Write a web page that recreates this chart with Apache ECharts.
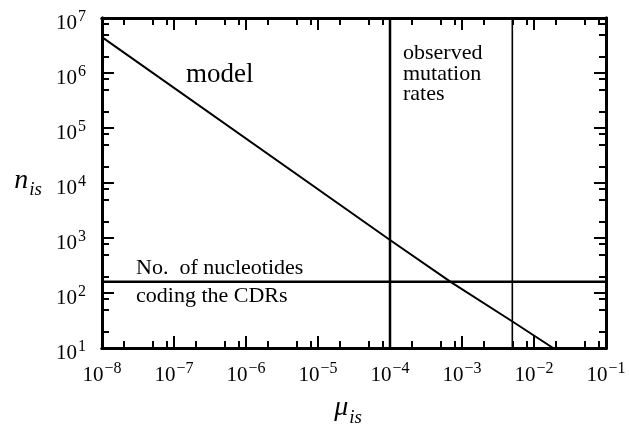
<!DOCTYPE html>
<html><head><meta charset="utf-8">
<script src="https://cdn.jsdelivr.net/npm/echarts@6/dist/echarts.min.js"></script>
<style>html,body{margin:0;padding:0;background:#fff}#c{width:629px;height:424px}</style>
</head><body><div id="c"></div>
<script>
// ---- data ----
const xExponents = [-8, -7, -6, -5, -4, -3, -2, -1];      // x tick labels 10^k
const yExponents = [1, 2, 3, 4, 5, 6, 7];                 // y tick labels 10^k
const minorMultipliers = [2, 5, 8];                        // minor tick positions within a decade
const modelMu = [1e-8, 1e-4, 7.2e-4, 4.9e-3, 1.84e-2];     // model line, x values
const modelN = [4.5e6, 920, 154, 31, 10];                  // model line, y values
const observedRates = [1e-4, 5e-3];                        // vertical lines
const observedWidths = [2.5, 1.6];
const nucleotidesCDR = 160;                                // horizontal line

const FONT = "'Liberation Serif', 'DejaVu Serif', serif";
const xMin = Math.pow(10, xExponents[0]), xMax = Math.pow(10, xExponents[xExponents.length - 1]);
const yMin = Math.pow(10, yExponents[0]), yMax = Math.pow(10, yExponents[yExponents.length - 1]);
const xMajor = xExponents.map(e => Math.pow(10, e));
const yMajor = yExponents.map(e => Math.pow(10, e));
function minors(exps) {
  const out = [];
  for (let i = 0; i < exps.length - 1; i++) minorMultipliers.forEach(m => out.push(m * Math.pow(10, exps[i])));
  return out;
}
const xMinor = minors(xExponents), yMinor = minors(yExponents);

function powLabel(v) {
  const e = Math.round(Math.log10(v));
  return '{b|10}{s|' + (e < 0 ? '\u2212' + (-e) : e) + '}';
}
const labelRich = {
  b: { fontFamily: FONT, fontSize: 21, color: '#000', verticalAlign: 'bottom', lineHeight: 22 },
  s: { fontFamily: FONT, fontSize: 16, color: '#000', verticalAlign: 'bottom', lineHeight: 16, padding: [0, 0, 9, 1] }
};
const lineStyle = { color: '#000', width: 3 };

function xAxis(pos, ticks, len, labels, extra) {
  return Object.assign({
    type: 'log', logBase: 10, min: xMin, max: xMax, position: pos,
    axisLine: { show: true, onZero: false, lineStyle: lineStyle },
    axisTick: { show: true, inside: true, length: len, lineStyle: { color: '#000', width: 2 }, customValues: ticks },
    axisLabel: labels ? { show: true, margin: 16, formatter: powLabel, rich: labelRich, customValues: xMajor } : { show: false },
    splitLine: { show: false }, minorTick: { show: false }, minorSplitLine: { show: false }
  }, extra || {});
}
function yAxis(pos, ticks, len, labels, extra) {
  return Object.assign({
    type: 'log', logBase: 10, min: yMin, max: yMax, position: pos,
    axisLine: { show: true, onZero: false, lineStyle: lineStyle },
    axisTick: { show: true, inside: true, length: len, lineStyle: { color: '#000', width: 2 }, customValues: ticks },
    axisLabel: labels ? { show: true, margin: 16, padding: [10, 0, 0, 0], formatter: powLabel, rich: labelRich, customValues: yMajor } : { show: false },
    splitLine: { show: false }, minorTick: { show: false }, minorSplitLine: { show: false }
  }, extra || {});
}
const nameRich = {
  m: { fontFamily: FONT, fontStyle: 'italic', fontSize: 28, color: '#000', verticalAlign: 'bottom', padding: [0, 1, 5, 0] },
  u: { fontFamily: FONT, fontStyle: 'italic', fontSize: 19, color: '#000', verticalAlign: 'bottom' }
};

const series = [{
  type: 'line', xAxisIndex: 0, yAxisIndex: 0,
  data: modelMu.map((m, i) => [m, modelN[i]]),
  showSymbol: false, symbol: 'none',
  lineStyle: { color: '#000', width: 2 },
  silent: true
}, {
  type: 'line', xAxisIndex: 0, yAxisIndex: 0,
  data: [[xMin, nucleotidesCDR], [xMax, nucleotidesCDR]],
  showSymbol: false, symbol: 'none',
  lineStyle: { color: '#000', width: 2.5 },
  silent: true
}];
observedRates.forEach((r, i) => series.push({
  type: 'line', xAxisIndex: 0, yAxisIndex: 0,
  data: [[r, yMin], [r, yMax]],
  showSymbol: false, symbol: 'none',
  lineStyle: { color: '#000', width: observedWidths[i] },
  silent: true
}));

const chart = echarts.init(document.getElementById('c'), null, { renderer: 'canvas' });
chart.setOption({
  animation: false,
  backgroundColor: '#fff',
  grid: { left: 102, right: 23, top: 18, bottom: 76, containLabel: false, outerBoundsMode: 'none' },
  xAxis: [
    xAxis('bottom', xMajor, 12, true, { name: '{m|\u03bc}{u|is}', nameLocation: 'middle', nameGap: 46, nameTextStyle: { padding: [0, 12, 0, 0], rich: nameRich } }),
    xAxis('bottom', xMinor, 7, false),
    xAxis('top', xMajor, 12, false),
    xAxis('top', xMinor, 7, false)
  ],
  yAxis: [
    yAxis('left', yMajor, 12, true, { name: '{m|n}{u|is}', nameLocation: 'middle', nameGap: 60, nameRotate: 0, nameTextStyle: { align: 'right', rich: nameRich } }),
    yAxis('left', yMinor, 7, false),
    yAxis('right', yMajor, 12, false),
    yAxis('right', yMinor, 7, false)
  ],
  series: series,
  graphic: [
    { type: 'text', x: 186, y: 75, style: { text: 'model', font: '27px ' + FONT, fill: '#000', verticalAlign: 'middle' } },
    { type: 'text', x: 403, y: 53, style: { text: 'observed', font: '22px ' + FONT, fill: '#000', verticalAlign: 'middle' } },
    { type: 'text', x: 403, y: 74, style: { text: 'mutation', font: '22px ' + FONT, fill: '#000', verticalAlign: 'middle' } },
    { type: 'text', x: 403, y: 94, style: { text: 'rates', font: '22px ' + FONT, fill: '#000', verticalAlign: 'middle' } },
    { type: 'text', x: 136, y: 268, style: { text: 'No.  of nucleotides', font: '22px ' + FONT, fill: '#000', verticalAlign: 'middle' } },
    { type: 'text', x: 136, y: 296, style: { text: 'coding the CDRs', font: '22px ' + FONT, fill: '#000', verticalAlign: 'middle' } }
  ]
});
</script></body></html>
